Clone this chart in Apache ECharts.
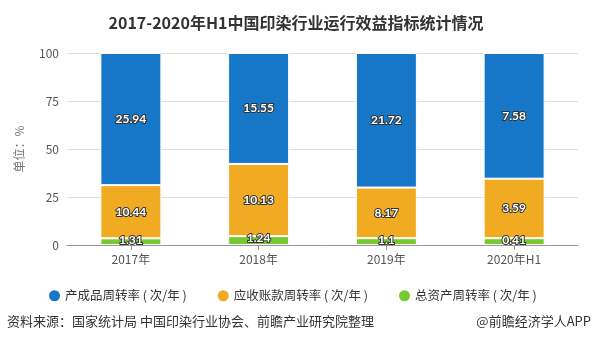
<!DOCTYPE html>
<html><head><meta charset="utf-8">
<script src="https://cdn.jsdelivr.net/npm/echarts@6/dist/echarts.min.js"></script>
<style>html,body{margin:0;padding:0;background:#fff}#c{width:592px;height:345px}</style>
</head><body><div id="c"></div>
<script>
const categories = ['2017年','2018年','2019年','2020年H1'];
const productTurnover = [25.94, 15.55, 21.72, 7.58];
const receivableTurnover = [10.44, 10.13, 8.17, 3.59];
const assetTurnover = [1.31, 1.24, 1.1, 0.41];
const seriesNames = ['产成品周转率 ( 次/年 )','应收账款周转率 ( 次/年 )','总资产周转率 ( 次/年 )'];
const yTicks = [0, 25, 50, 75, 100];

const totals = categories.map((_, i) => productTurnover[i] + receivableTurnover[i] + assetTurnover[i]);
const pct = arr => arr.map((v, i) => ({ value: v / totals[i] * 100, raw: v }));

const font = '"Noto Sans CJK SC", "Noto Sans", sans-serif';
const labelCfg = {
  show: true, position: 'inside', color: '#fff', fontSize: 12, fontWeight: 'bold',
  fontFamily: 'Lato, "Noto Sans", sans-serif',
  textBorderColor: '#333', textBorderWidth: 2,
  formatter: p => p.data.raw
};
const mk = (name, arr, color, lbl) => ({
  name, type: 'bar', stack: 's', barWidth: 61, data: pct(arr),
  itemStyle: { color, borderColor: '#fff', borderWidth: 1 },
  label: Object.assign({}, labelCfg, lbl || {})
});
const chart = echarts.init(document.getElementById('c'));
chart.setOption({
  animation: false,
  title: { text: '2017-2020年H1中国印染行业运行效益指标统计情况', left: 'center', top: 10,
    textStyle: { fontSize: 16, fontWeight: 'bold', color: '#333', fontFamily: font } },
  grid: { left: 67, right: 14, top: 53, bottom: 100 },
  legend: { bottom: 38, left: 44, itemGap: 31, icon: 'circle', itemWidth: 11, itemHeight: 11, itemStyle: { borderWidth: 0 },
    textStyle: { fontSize: 12.5, color: '#333', fontFamily: font },
    data: seriesNames },
  xAxis: { type: 'category', data: categories,
    axisLine: { lineStyle: { color: '#999' } }, axisTick: { show: true, alignWithLabel: true, lineStyle: { color: '#999' } },
    axisLabel: { color: '#555', fontSize: 12, fontFamily: font, margin: 8 } },
  yAxis: { type: 'value', min: 0, max: 100, interval: 25,
    name: '单位：%', nameLocation: 'middle', nameGap: 42, nameRotate: 90,
    nameTextStyle: { color: '#777', fontSize: 12, fontFamily: font },
    axisLabel: { color: '#555', fontSize: 12, fontFamily: font, formatter: v => yTicks.includes(v) ? String(v) : '' },
    splitLine: { lineStyle: { color: '#ddd' } } },
  series: [
    mk(seriesNames[0], productTurnover, '#1677c8'),
    mk(seriesNames[1], receivableTurnover, '#f0ab22'),
    mk(seriesNames[2], assetTurnover, '#78c832', { position: 'top', distance: -8 })
  ].reverse(),
  graphic: [
    { type: 'text', left: 7, top: 315, style: { text: '资料来源：国家统计局 中国印染行业协会、前瞻产业研究院整理', fontSize: 13, fill: '#333', fontFamily: font } },
    { type: 'text', right: 1, top: 315, style: { text: '@前瞻经济学人APP', fontSize: 13, fill: '#333', fontFamily: font } }
  ]
});
</script></body></html>
